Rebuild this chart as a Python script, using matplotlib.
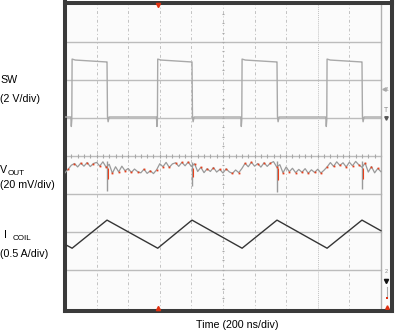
import numpy as np
import matplotlib
matplotlib.use('Agg')  # Headless mode
import matplotlib.pyplot as plt

plt.rcParams['font.family'] = ['Liberation Sans', 'DejaVu Sans']

# --- data (time in ns) ---
# SW node (V), breakpoints of the switching waveform
sw_t = [0,
        37, 40, 43, 45, 65, 260, 266, 269, 273, 279,
        579, 582, 585, 587, 607, 798, 804, 807, 811, 817,
        1113, 1116, 1119, 1121, 1141, 1336, 1342, 1345, 1349, 1355,
        1651, 1654, 1657, 1659, 1679, 1874, 1880, 1883, 1887, 1893,
        2000]
sw_v = [0.05,
        0.05, -0.45, -0.1, 3.1, 3.05, 2.95, 2.95, 0.05, -0.2, 0.05,
        0.05, -0.45, -0.1, 3.1, 3.05, 2.95, 2.95, 0.05, -0.2, 0.05,
        0.05, -0.45, -0.1, 3.1, 3.05, 2.95, 2.95, 0.05, -0.2, 0.05,
        0.05, -0.45, -0.1, 3.1, 3.05, 2.95, 2.95, 0.05, -0.2, 0.05,
        0.05]

# VOUT ripple (mV, AC), one sample every 20 ns
vout_t = np.arange(0, 2001, 20)
vout_mv = [-2.5, -0.6, 1.5, 2.4, 0.6, 2.6, 1.0, 2.9, 0.8, 2.4,
           3.0, 1.1, 3.3, 0.5, 2.0, -2.7, 0.7, -2.0, 1.0, -1.4,
           -0.2, -2.3, -0.5, -1.9, -2.5, -0.6, -2.8, -1.4, -2.9, -0.9,
           2.3, 0.7, 3.0, 0.4, 2.2, 2.8, 0.9, 3.0, 1.2, 3.2,
           0.8, 2.3, -1.8, 0.4, -2.4, -0.3, -1.8, 0.3, -2.1, -0.7,
           -2.6, -0.4, -2.0, -2.8, -1.0, -2.4, -0.2, 2.5, 0.7, 3.1,
           1.0, 2.4, 0.5, 2.8, 0.9, 2.6, 3.4, 0.6, 1.8, -2.5,
           0.6, -1.9, -0.1, -2.4, -0.7, -2.2, -0.3, -2.7, -0.9, -2.3,
           -0.6, -2.6, -1.1, 0.7, 2.9, 0.9, 3.3, 1.4, 2.8, 0.6,
           3.1, 1.2, 3.5, 1.7, 0.4, 2.6, -2.1, 0.8, -2.5, -0.2,
           -1.9]
# switching spikes on VOUT (at the SW falling edges)
spike_t = [266, 804, 1342, 1880]
spike_lo = [-12.0, -9.5, -12.5, -11.0]
spike_hi = [3.8, 3.2, 3.5, 3.6]

# Coil current (A), triangle corners
icoil_t = [0, 45, 266, 587, 804, 1121, 1342, 1659, 1880, 2000]
icoil_a = [1.16, 1.11, 1.48, 1.11, 1.48, 1.11, 1.48, 1.11, 1.48, 1.34]

# channel scale / position (divisions)
SW_VDIV, SW_POS = 2.0, 1.0
VOUT_MVDIV, VOUT_POS = 20.0, -0.32
ICOIL_ADIV, ICOIL_POS = 0.5, -4.65

W, H = 395, 333
fig = plt.figure(figsize=(W / 100, H / 100), dpi=100)
ax = fig.add_axes([65 / W, 1 - 310.5 / H, (392 - 65) / W, (310.5 - 2.5) / H])
ax.set_facecolor('#fbfbfb')
ax.set_xlim(0, 2070)
ax.set_ylim(-4.07, 4.04)
ax.set_xticks([])
ax.set_yticks([])
for s in ax.spines.values():
    s.set_linewidth(2.9)
    s.set_color('#3a3a3a')

# graticule
grid_c = '#bcbcbc'
for d in range(-3, 4):
    ax.plot([0, 2000], [d, d], color=grid_c, lw=1.0, zorder=1)
for t in range(200, 2000, 200):
    ls = (0, (1, 1)) if t == 1600 else (0, (3, 2.5, 1, 2.5))
    ax.plot([t, t], [-4.07, 4.04], color='#c2c2c2', lw=0.7, ls=ls, zorder=1)
ax.plot([2000, 2000], [-4.07, 4.04], color='#b0b0b0', lw=1.0, zorder=1)
# minor ticks on the centre cross
ax.vlines(np.arange(40, 2000, 40), -0.06, 0.06, color='#a8a8a8', lw=0.8, zorder=1)
ax.hlines(np.arange(-3.75, 4.0, 0.25), 991, 1009, color='#a8a8a8', lw=0.8, zorder=1)

# traces
ax.plot(sw_t, SW_POS + np.array(sw_v) / SW_VDIV, color='#a9a9a9', lw=1.0, zorder=3)
vout_div = VOUT_POS + np.array(vout_mv) / VOUT_MVDIV
ax.plot(vout_t, vout_div, color='#9a9a9a', lw=0.9, zorder=3)
ax.plot(vout_t[1::2], vout_div[1::2], ls='none', marker='s', ms=1.3,
        color='#e8401c', mew=0, zorder=4)
ax.vlines(spike_t, VOUT_POS + np.array(spike_lo) / VOUT_MVDIV,
          VOUT_POS + np.array(spike_hi) / VOUT_MVDIV, color='#9a9a9a', lw=1.0, zorder=3)
ax.vlines(np.array(spike_t) + 4, VOUT_POS + np.array(spike_lo) / VOUT_MVDIV * 0.5,
          VOUT_POS, color='#e8401c', lw=0.8, zorder=4)
ax.plot(icoil_t, ICOIL_POS + np.array(icoil_a) / ICOIL_ADIV, color='#353535', lw=1.0, zorder=3)

# trigger position markers
ax.plot([589], [3.98], marker='v', ms=3, color='#e03010', clip_on=False, zorder=5)
ax.plot([589], [-4.0], marker='^', ms=3, color='#e03010', clip_on=False, zorder=5)

# right side channel markers
ax.plot([2022], [1.76], marker='<', ms=2.5, color='#aaaaaa', zorder=5)
ax.text(2040, 1.76, '1', fontsize=4, color='#aaaaaa', ha='center', va='center')
ax.text(2035, 1.2, 'T', fontsize=5, color='#888888', ha='center', va='center')
ax.plot([2035], [1.0], marker='v', ms=2.5, color='#555555', zorder=5)
ax.text(2035, -3.05, '2', fontsize=4, color='#888888', ha='center', va='center')
ax.plot([2035], [-3.3], marker='v', ms=3, color='#111111', zorder=5)
ax.plot([2040, 2040], [-3.45, -3.75], color='#aaaaaa', lw=0.8)
ax.plot([2040], [-3.75], marker='s', ms=1.5, color='#e03010', mew=0)
ax.plot([2040], [-3.98], marker='^', ms=2.5, color='#e03010', clip_on=False, zorder=5)

# channel labels
fs = 7.7
def ftext(x, y, s, size=fs, **kw):
    fig.text(x / W, 1 - y / H, s, fontsize=size, va='baseline', **kw)

ftext(0, 83.5, 'SW')
ftext(0, 102, '(2 V/div)')
ftext(0, 173, 'V')
ftext(7.5, 175.5, 'OUT', size=5.9)
ftext(0, 188, '(20 mV/div)')
ftext(4, 238, 'I')
ftext(12.5, 240.5, 'COIL', size=5.9)
ftext(0, 257, '(0.5 A/div)')
ftext(237, 328, 'Time (200 ns/div)', ha='center')

fig.savefig('out.png', dpi=100, facecolor='white')
